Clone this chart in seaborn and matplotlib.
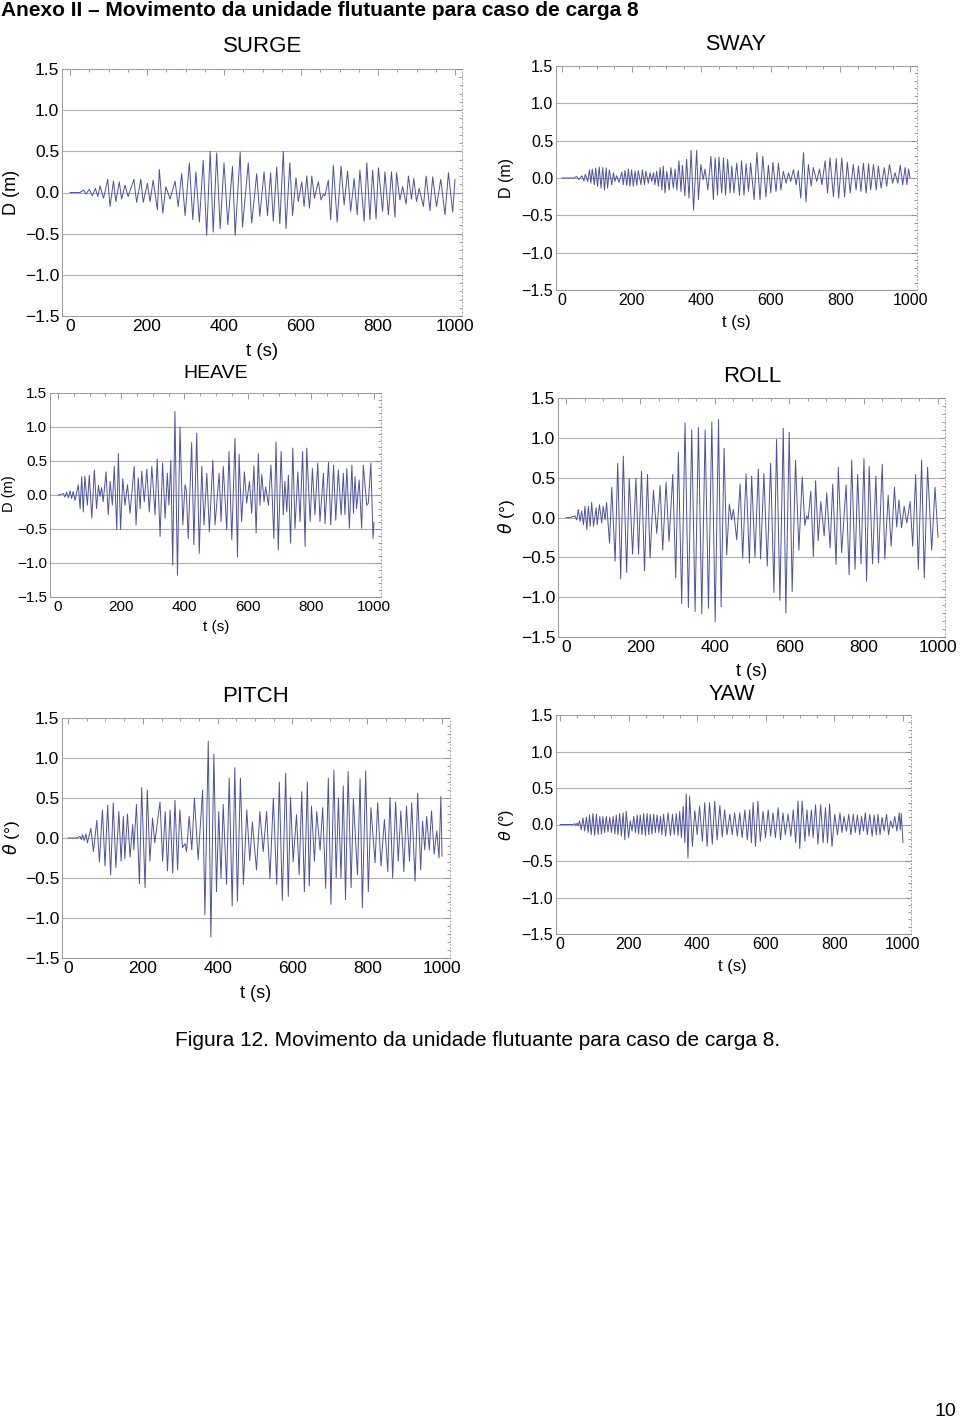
import matplotlib
matplotlib.use("Agg")
import matplotlib.pyplot as plt
import seaborn as sns
from matplotlib.ticker import MultipleLocator, FuncFormatter

# Extremos: tempo (s) e deslocamento / rotação
surge_t = [0, 26, 35, 42, 50, 58, 66, 72, 78, 87, 98, 104, 113, 119, 128, 134, 143, 151, 166, 173,
           184, 190, 201, 208, 216, 227, 232, 241, 249, 260, 273, 281, 290, 299, 310, 319, 327, 336, 346, 355,
           364, 372, 381, 390, 400, 410, 422, 429, 442, 448, 463, 472, 485, 493,
           504, 513, 521, 528, 537, 545, 554, 561, 571, 578, 587, 593, 602, 608, 615, 622, 628, 635, 645, 652,
           658, 662, 671, 677, 684, 694, 704, 712, 721, 729, 738, 746, 753, 764, 771, 779, 786, 795, 801, 812,
           818, 827, 835, 844, 848, 857, 864, 873, 879, 887, 893, 900, 907, 918, 925, 935, 942, 952, 963, 974,
           983, 994, 1000]
surge_v = [0, 0, 0.03, -0.02, 0.04, -0.04, 0.05, -0.05, 0.08, -0.07, 0.16, -0.17, 0.14, -0.11, 0.13, -0.08, 0.09, -0.05, 0.16, -0.12,
           0.16, -0.12, 0.11, -0.11, 0.15, -0.21, 0.28, -0.25, 0.07, -0.08, 0.14, -0.17, 0.23, -0.28, 0.36, -0.33, 0.25, -0.36, 0.39, -0.52,
           0.5, -0.48, 0.48, -0.44, 0.36, -0.39, 0.32, -0.52, 0.49, -0.42, 0.36, -0.37, 0.23, -0.29,
           0.25, -0.28, 0.24, -0.35, 0.31, -0.38, 0.5, -0.44, 0.36, -0.28, 0.18, -0.11, 0.13, -0.17, 0.2, -0.19, 0.2, -0.07, 0.13, -0.09,
           -0.02, -0.04, 0.15, -0.33, 0.33, -0.36, 0.32, -0.15, 0.26, -0.23, 0.17, -0.27, 0.27, -0.35, 0.36, -0.33, 0.27, -0.32, 0.3, -0.23,
           0.25, -0.27, 0.25, -0.3, 0.24, -0.09, 0.07, -0.14, 0.2, -0.08, 0.17, -0.11, 0.05, -0.17, 0.2, -0.22, 0.19, -0.17, 0.16, -0.27,
           0.24, -0.24, 0.16]

sway_t = [0, 33, 42, 49, 57, 63, 67, 74, 79, 83, 87, 93, 97, 102, 107, 112, 117, 122, 127, 131,
          136, 143, 148, 152, 157, 164, 172, 176, 181, 186, 191, 195, 200, 205, 210, 215, 219, 227, 231, 237,
          241, 248, 253, 258, 263, 267, 272, 277, 282, 287, 291, 296, 301, 308, 313, 320, 325, 330, 336, 342,
          346, 353, 358, 365, 371, 378, 387, 392, 399, 406, 411, 419, 428, 435, 440, 447, 451, 459, 464, 470,
          476, 483,
          488, 494, 502, 510, 516, 523, 529, 536, 542, 552, 560, 569, 577, 586, 593, 600, 606, 615, 622, 629,
          636, 644, 651, 657, 665, 673, 679, 686, 694, 701, 708, 716, 722, 732, 740, 747, 756, 763, 770, 780,
          788, 795, 804, 812, 820, 828, 837, 845, 852, 859, 866, 874, 881, 887, 895, 903, 909, 917, 926, 933,
          941, 950, 957, 965, 972, 979, 986, 991, 996, 1000]
sway_v = [0, 0, 0.02, -0.02, 0.03, -0.04, 0.05, -0.045, 0.11, -0.07, 0.12, -0.09, 0.135, -0.11, 0.15, -0.135, 0.14, -0.16, 0.135, -0.135,
          0.11, -0.09, 0.07, -0.045, 0.03, -0.06, 0.08, -0.09, 0.1, -0.1, 0.12, -0.11, 0.11, -0.11, 0.09, -0.1, 0.1, -0.09, 0.11, -0.09,
          0.09, -0.07, 0.07, -0.045, 0.07, -0.09, 0.09, -0.11, 0.14, -0.16, 0.16, -0.2, 0.09, -0.16, 0.14, -0.135, 0.12, -0.16, 0.23, -0.18,
          0.17, -0.24, 0.25, -0.27, 0.37, -0.43, 0.37, -0.29, 0.18, -0.02, 0.12, -0.16, 0.29, -0.29, 0.27, -0.23, 0.28, -0.2, 0.27, -0.23,
          0.25, -0.2,
          0.16, -0.2, 0.2, -0.23, 0.23, -0.23, 0.19, -0.18, 0.2, -0.29, 0.34, -0.29, 0.29, -0.25, 0.17, -0.2, 0.21, -0.18, 0.2, -0.16,
          0.09, -0.07, 0.07, -0.045, 0.11, -0.09, 0.1, -0.27, 0.34, -0.32, 0.18, -0.11, 0.14, -0.045, 0.12, -0.09, 0.23, -0.2, 0.27, -0.25,
          0.26, -0.27, 0.27, -0.25, 0.21, -0.2, 0.18, -0.16, 0.16, -0.18, 0.2, -0.2, 0.19, -0.16, 0.18, -0.16, 0.16, -0.135, 0.14, -0.11,
          0.18, -0.07, 0.07, -0.07, 0.17, -0.09, 0.14, -0.09, 0.12, 0.0]

heave_t = [0, 17, 22, 27, 33, 38, 43, 48, 54, 64, 70, 75, 80, 85, 93, 99, 107, 115, 122, 128,
           133, 138, 143, 152, 159, 165, 172, 178, 186, 191, 198, 205, 212, 220, 228, 241, 247, 254, 260, 265,
           273, 281, 289, 297, 307, 314, 323, 331, 339, 346, 351, 357, 363, 370, 378, 386, 395, 402, 406, 412,
           423, 430, 439, 447, 455, 462, 471, 479, 490, 497,
           510, 516, 523, 534, 541, 550, 560, 568, 573, 581, 590, 597, 606, 613, 620, 627, 634, 639, 645, 652,
           657, 666, 674, 683, 690, 697, 706, 713, 718, 724, 729, 736, 743, 750, 759, 766, 774, 782, 787, 798,
           805, 813, 822, 829, 840, 845, 856, 863, 872, 879, 887, 896, 903, 908, 914, 922, 930, 935, 940, 945,
           953, 961, 966, 977, 982, 990, 997, 1000]
heave_v = [0, 0.02, -0.03, 0.04, -0.04, 0.06, -0.05, 0.05, -0.08, 0.15, -0.2, 0.27, -0.25, 0.28, -0.15, 0.29, -0.34, 0.37, -0.2, 0.14,
           -0.02, 0.11, -0.1, 0.34, -0.29, 0.2, -0.15, 0.42, -0.51, 0.61, -0.51, 0.24, -0.15, 0.15, -0.27, 0.42, -0.44, 0.25, -0.2, 0.35,
           -0.1, 0.38, -0.25, 0.42, -0.29, 0.53, -0.61, 0.47, -0.34, 0.32, -0.15, 0.51, -1.03, 1.23, -1.18, 1.0, -0.44, 0.15, 0.08, -0.64,
           0.77, -0.73, 0.91, -0.86, 0.42, -0.44, 0.32, -0.54, 0.51, -0.44,
           0.32, -0.39, 0.42, -0.51, 0.64, -0.66, 0.83, -0.91, 0.6, -0.39, 0.34, -0.12, 0.2, -0.27, 0.43, -0.56, 0.61, -0.15, 0.3, -0.1,
           0.12, -0.15, 0.44, -0.64, 0.78, -0.81, 0.64, -0.29, 0.2, -0.25, 0.29, -0.71, 0.69, -0.49, 0.34, -0.39, 0.64, -0.76, 0.69, -0.39,
           0.39, -0.29, 0.47, -0.39, 0.32, -0.42, 0.48, -0.44, 0.44, -0.37, 0.37, -0.29, 0.32, -0.29, 0.39, -0.49, 0.44, -0.27, 0.27, -0.2,
           0.22, -0.49, 0.44, -0.15, -0.12, 0.47, -0.64, -0.4]

roll_t = [0, 11, 24, 29, 33, 38, 42, 47, 51, 56, 60, 65, 69, 74, 81, 84, 90, 96, 100, 105,
          109, 117, 123, 132, 139, 147, 154, 163, 170, 179, 188, 195, 203, 211, 219, 226, 235, 244, 253, 260,
          269, 277, 287, 295, 302, 311, 320, 329, 338, 347, 356, 365, 374, 383, 392, 401, 410, 417, 425, 432,
          439, 445, 450, 459, 468, 475, 484, 493,
          499, 508, 517, 523, 532, 541, 550, 559, 566, 575, 584, 591, 600, 608, 617, 626, 635, 642, 647, 651,
          658, 665, 671, 678, 685, 694, 701, 710, 717, 726, 732, 741, 753, 761, 768, 777, 784, 793, 801, 808,
          815, 824, 833, 840, 850, 857, 866, 874, 883, 889, 895, 902, 909, 916, 925, 932, 940, 947, 956, 963,
          972, 983, 992, 1000]
roll_v = [0, 0, 0.02, -0.03, 0.1, -0.05, 0.08, -0.09, 0.14, -0.15, 0.14, -0.11, 0.19, -0.11, 0.12, -0.09, 0.16, -0.07, 0.14, -0.03,
          0.19, -0.32, 0.38, -0.55, 0.68, -0.77, 0.77, -0.69, 0.49, -0.46, 0.49, -0.46, 0.58, -0.67, 0.54, -0.51, 0.34, -0.2, 0.4, -0.41,
          0.44, -0.3, 0.54, -0.76, 0.82, -1.08, 1.19, -1.13, 1.1, -1.18, 1.13, -1.21, 1.1, -1.14, 1.2, -1.31, 1.23, -1.12, 0.87, -0.47,
          0.17, -0.03, 0.1, -0.28, 0.42, -0.51, 0.55, -0.57,
          0.52, -0.5, 0.61, -0.52, 0.55, -0.61, 0.68, -0.94, 0.98, -1.04, 1.12, -1.2, 1.07, -0.93, 0.72, -0.41, 0.51, -0.1, 0.02, -0.02,
          0.33, -0.49, 0.46, -0.29, 0.2, -0.23, 0.31, -0.38, 0.42, -0.59, 0.63, -0.44, 0.41, -0.72, 0.72, -0.65, 0.54, -0.58, 0.74, -0.8,
          0.64, -0.58, 0.52, -0.57, 0.67, -0.52, 0.28, -0.36, 0.38, -0.12, 0.22, -0.13, 0.14, -0.07, 0.2, -0.36, 0.54, -0.65, 0.72, -0.76,
          0.63, -0.41, 0.38, -0.25]

pitch_t = [0, 23, 32, 36, 39, 43, 48, 52, 61, 68, 77, 84, 92, 99, 106, 114, 121, 128, 136, 142,
           148, 152, 159, 166, 173, 176, 183, 191, 197, 206, 212, 219, 226, 232, 246, 253, 260, 266, 273, 280,
           286, 293, 299, 306, 313, 317, 324, 331, 338, 348, 360, 366, 375, 382, 390, 397, 403, 409, 415, 424,
           431, 439, 446, 453, 461, 469, 478, 486, 493,
           504, 513, 522, 531, 540, 549, 558, 565, 573, 582, 589, 595, 602, 611, 618, 625, 632, 640, 645, 651,
           659, 665, 674, 681, 689, 696, 703, 711, 717, 723, 730, 736, 742, 749, 757, 763, 774, 781, 787, 796,
           803, 810, 821, 828, 837, 846, 855, 861, 868, 876, 883, 890, 898, 905, 913, 919, 928, 935, 943, 948,
           954, 959, 966, 972, 979, 986, 992, 997, 1000]
pitch_v = [0, 0, 0.02, -0.02, 0.04, -0.03, 0.05, -0.06, 0.12, -0.17, 0.22, -0.3, 0.35, -0.35, 0.41, -0.46, 0.44, -0.37, 0.33, -0.29,
           0.27, -0.26, 0.3, -0.24, 0.17, -0.15, 0.42, -0.57, 0.63, -0.62, 0.6, -0.29, 0.25, -0.06, 0.45, -0.29, 0.33, -0.41, 0.35, -0.44,
           0.47, -0.4, 0.35, -0.12, -0.07, -0.17, 0.27, -0.15, 0.5, -0.27, 0.6, -0.96, 1.21, -1.24, 1.05, -0.67, 0.33, -0.5, 0.42, -0.58,
           0.75, -0.85, 0.88, -0.79, 0.75, -0.58, 0.35, -0.28, 0.2,
           -0.4, 0.33, -0.17, 0.33, -0.51, 0.5, -0.58, 0.7, -0.78, 0.81, -0.73, 0.51, -0.3, 0.29, -0.46, 0.58, -0.67, 0.7, -0.6, 0.4,
           -0.29, 0.33, -0.15, 0.38, -0.63, 0.75, -0.83, 0.85, -0.5, 0.5, -0.5, 0.65, -0.77, 0.83, -0.62, 0.49, -0.46, 0.74, -0.87, 0.84,
           -0.67, 0.38, -0.31, 0.44, -0.35, 0.23, -0.42, 0.51, -0.5, 0.45, -0.29, 0.34, -0.42, 0.4, -0.29, 0.44, -0.54, 0.56, -0.4, 0.21,
           -0.15, 0.27, -0.15, 0.34, -0.2, 0.09, -0.25, 0.52, -0.23]

yaw_t = [0, 38, 43, 46, 50, 53, 57, 62, 67, 72, 77, 82, 86, 91, 96, 101, 106, 111, 116, 121,
         125, 130, 135, 140, 145, 150, 155, 160, 164, 169, 174, 179, 184, 189, 193, 200, 205, 210, 215, 220,
         225, 229, 234, 239, 244, 249, 254, 259, 263, 268, 273, 278, 283, 288, 293, 297, 302, 308, 315, 322,
         328, 333, 339, 344, 349, 354, 359, 364, 368, 373, 378, 386, 393, 400, 407, 415, 422, 429, 436, 444,
         451, 458, 466, 473, 480, 487,
         495, 502, 509, 517, 524, 531, 539, 546, 553, 558, 563, 570, 577, 584, 592, 599, 607, 614, 621, 628,
         636, 643, 650, 657, 665, 673, 680, 687, 694, 699, 706, 714, 720, 726, 733, 738, 745, 752, 760, 767,
         774, 780, 786, 793, 801, 809, 816, 822, 828, 835, 842, 848, 855, 861, 867, 874, 879, 885, 890, 896,
         903, 910, 916, 922, 927, 933, 939, 945, 952, 958, 964, 970, 976, 982, 989, 992, 995, 1000]
yaw_v = [0, 0, 0.01, -0.01, 0.02, -0.02, 0.05, -0.07, 0.09, -0.09, 0.1, -0.11, 0.13, -0.14, 0.15, -0.15, 0.14, -0.14, 0.11, -0.13,
         0.11, -0.11, 0.11, -0.1, 0.1, -0.11, 0.11, -0.13, 0.13, -0.14, 0.15, -0.16, 0.16, -0.21, 0.18, -0.18, 0.05, -0.09, 0.11, -0.11,
         0.13, -0.13, 0.13, -0.14, 0.15, -0.15, 0.15, -0.14, 0.14, -0.13, 0.14, -0.11, 0.13, -0.11, 0.11, -0.14, 0.14, -0.16, 0.16, -0.15,
         0.14, -0.14, 0.15, -0.15, 0.18, -0.18, 0.25, -0.25, 0.42, -0.46, 0.39, -0.3, 0.19, -0.14, 0.25, -0.23, 0.3, -0.3, 0.3, -0.27,
         0.32, -0.21, 0.26, -0.17, 0.2, -0.14,
         0.14, -0.14, 0.16, -0.16, 0.16, -0.18, 0.2, -0.21, 0.2, -0.25, 0.3, -0.3, 0.32, -0.23, 0.18, -0.18, 0.2, -0.16, 0.16, -0.18,
         0.23, -0.21, 0.16, -0.14, 0.14, -0.16, 0.2, -0.25, 0.32, -0.33, 0.32, -0.23, 0.2, -0.16, 0.2, -0.18, 0.27, -0.27, 0.27, -0.25,
         0.23, -0.25, 0.28, -0.3, 0.14, -0.14, 0.16, -0.11, 0.11, -0.09, 0.14, -0.14, 0.14, -0.11, 0.13, -0.14, 0.11, -0.09, 0.16, -0.14,
         0.14, -0.16, 0.13, -0.14, 0.14, -0.14, 0.1, -0.09, 0.14, -0.14, 0.05, -0.05, 0.11, -0.09, 0.16, -0.07, 0.15, -0.25]

x_ticks = [0, 200, 400, 600, 800, 1000]
y_ticks = [-1.5, -1.0, -0.5, 0.0, 0.5, 1.0, 1.5]

W, H = 960, 1422
LINE = "#4d519f"
GRID = "#b0b0b0"
FRAME = "#8a8a8a"

sns.set_theme(style="white")
plt.rcParams['font.family'] = ['Liberation Sans', 'DejaVu Sans']
plt.rcParams['mathtext.fontset'] = 'dejavusans'
plt.rcParams['text.color'] = 'black'

fig = plt.figure(figsize=(W / 100, H / 100), dpi=100)


def fx(px):
    return px / W


def fy(py):
    return 1 - py / H


def minus_fmt(v, pos):
    s = f"{v:.1f}"
    if s == "-0.0":
        s = "0.0"
    return s.replace("-", "\u2212")


def draw_panel(t, v, title, ylab, box, x0, x1000, title_xy, tlab_xy, ylab_xy, fs_tick, fs_title, fs_lab):
    l, top, r, b = box
    ax = fig.add_axes([fx(l), fy(b), fx(r - l), (b - top) / H])
    sc = (x1000 - x0) / 1000.0
    sns.lineplot(x=t, y=v, ax=ax, color=LINE, linewidth=0.7, sort=False, estimator=None)
    ax.set_xlim((l - x0) / sc, (r - x0) / sc)
    ax.set_ylim(-1.5, 1.5)
    ax.set_xticks(x_ticks)
    ax.set_yticks(y_ticks)
    ax.xaxis.set_minor_locator(MultipleLocator(50))
    ax.yaxis.set_minor_locator(MultipleLocator(0.1))
    ax.yaxis.set_major_formatter(FuncFormatter(minus_fmt))
    ax.grid(axis="y", color=GRID, linewidth=0.8)
    ax.grid(axis="x", visible=False)
    ax.tick_params(which="both", direction="in", top=True, right=True, colors=FRAME,
                   labelcolor="black", labelsize=fs_tick, width=0.6, pad=2)
    ax.tick_params(which="major", length=4)
    ax.tick_params(which="minor", length=2)
    for side, sp in ax.spines.items():
        sp.set_color(FRAME)
        sp.set_linewidth(0.6)
        if side in ("top", "right"):
            sp.set_linestyle((0, (1, 3)))
    ax.set_xlabel("")
    ax.set_ylabel("")
    fig.text(fx(title_xy[0]), fy(title_xy[1]), title, fontsize=fs_title, ha="center", va="center")
    fig.text(fx(tlab_xy[0]), fy(tlab_xy[1]), "t (s)", fontsize=fs_lab, ha="center", va="center")
    fig.text(fx(ylab_xy[0]), fy(ylab_xy[1]), ylab, fontsize=fs_lab - 0.5, ha="center", va="center", rotation=90)
    return ax


draw_panel(surge_t, surge_v, "SURGE", "D (m)", (62, 69, 462, 316), 70, 455,
           (263, 46), (262, 352), (11, 192), 12.5, 16, 13.5)
draw_panel(sway_t, sway_v, "SWAY", "D (m)", (556, 66, 917, 290), 562, 910,
           (736, 45), (736, 323), (506, 178), 11.5, 15.5, 12)
draw_panel(heave_t, heave_v, "HEAVE", "D (m)", (50, 393, 381, 597), 58, 374,
           (216, 374), (216, 627), (9, 494), 11, 14, 11)
draw_panel(roll_t, roll_v, "ROLL", r"$\theta$ (°)", (558, 398, 945, 637), 566, 938,
           (752, 376), (752, 672), (507, 517), 12.5, 16, 13)
draw_panel(pitch_t, pitch_v, "PITCH", r"$\theta$ (°)", (62, 718, 450, 958), 68, 442,
           (256, 696), (256, 993), (11, 838), 12.5, 16, 13)
draw_panel(yaw_t, yaw_v, "YAW", r"$\theta$ (°)", (556, 715, 911, 934), 560, 903,
           (732, 694), (732, 967), (506, 825), 11.5, 15.5, 12)

fig.text(fx(1), fy(10), "Anexo II \u2013 Movimento da unidade flutuante para caso de carga 8",
         fontsize=15, fontweight="bold", ha="left", va="center")
fig.text(fx(478), fy(1041), "Figura 12. Movimento da unidade flutuante para caso de carga 8.",
         fontsize=15, ha="center", va="center")
fig.text(fx(945), fy(1412), "10", fontsize=14, ha="center", va="center")

fig.savefig("out.png", dpi=100)
